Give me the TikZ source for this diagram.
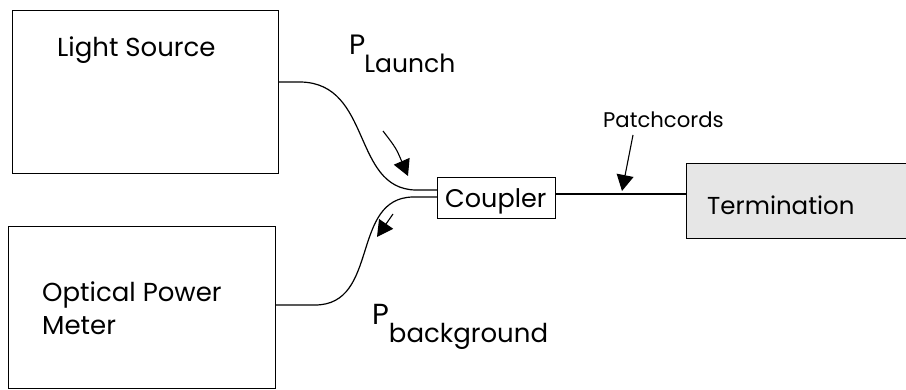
\documentclass[tikz,border=0pt]{standalone}
\usepackage{fontspec}
\setmainfont{Poppins}
\usetikzlibrary{arrows.meta}
\definecolor{termgray}{HTML}{E6E6E6}
\tikzset{
  box/.style={draw=black, line width=1.2pt, inner sep=0pt, anchor=north west},
  fiber/.style={draw=black, line width=1.2pt},
  pointer/.style={draw=black, line width=1.1pt, -{Triangle[length=16pt,width=17pt]}},
  lbl/.style={inner sep=0pt, anchor=base west, font=\fontsize{26}{30}\selectfont},
}
\begin{document}
\begin{tikzpicture}[x=1pt,y=-1pt]
\useasboundingbox (0,0) rectangle (906,390);

% equipment boxes
\node[box, minimum width=266pt, minimum height=163pt] (ls) at (12,10) {};
\node[box, minimum width=267pt, minimum height=162pt] (opm) at (8,226) {};
\node[box, minimum width=118pt, minimum height=41pt] (cp) at (437,177) {};
\node[box, fill=termgray, minimum width=230pt, minimum height=75pt] (term) at (686,163) {};

% box texts
\node[lbl] (lstext) at (57,57) {Light Source};
\node[lbl] (opmtext1) at (42,302) {Optical Power};
\node[lbl] (opmtext2) at (42,335) {Meter};
\node[lbl, font=\fontsize{25.5}{30}\selectfont] (cptext) at (445,208) {Coupler};
\node[lbl, font=\fontsize{24.5}{28}\selectfont] (termtext) at (707,215) {Termination};
\node[lbl, font=\fontsize{21.2}{26}\selectfont] (pctext) at (603,128) {Patchcords};

% power labels
\node[lbl, font=\fontsize{28}{32}\selectfont] (plaunch) at (349,55)
  {P\kern-1pt\raisebox{-18pt}{\fontsize{25}{30}\selectfont Launch}};
\node[lbl, font=\fontsize{29}{34}\selectfont] (pback) at (372,325)
  {P\raisebox{-18pt}{\fontsize{26}{30}\selectfont background}};

% fibers
\coordinate (lsout) at (ls.east |- 0,82);
\coordinate (opmout) at (opm.east |- 0,305);
\coordinate (cpin1) at (cp.west |- 0,190);
\coordinate (cpin2) at (cp.west |- 0,197);
\coordinate (cpout) at (cp.east |- 0,194);
\coordinate (termin) at (term.west |- 0,194);
\draw[fiber] (lsout) -- ++(22,0) .. controls (372,84) and (352,188) .. (415,190) -- (cpin1);
\draw[fiber] (cpin2) -- (413,197) .. controls (350,198) and (380,305) .. (315,305) -- (opmout);
\draw[fiber] (cpout) -- (termin);

% direction arrows
\coordinate (a1s) at (383,131);
\coordinate (a1e) at (408,176);
\coordinate (a2s) at (393,214);
\coordinate (a2e) at (377,237);
\coordinate (a3s) at (633,135);
\coordinate (a3e) at (622,191);
\draw[pointer] (a1s) .. controls (396,148) .. (a1e);
\draw[pointer] (a2s) -- (a2e);
\draw[pointer] (a3s) -- (a3e);
\end{tikzpicture}
\end{document}
